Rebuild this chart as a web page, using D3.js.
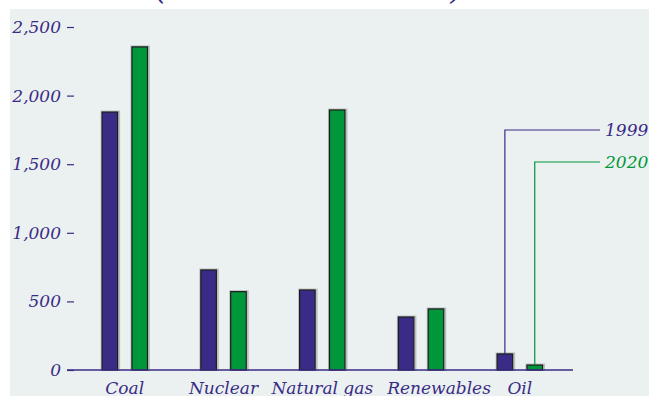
<!DOCTYPE html>
<html>
<head>
<meta charset="utf-8">
<script src="https://cdn.jsdelivr.net/npm/d3@7"></script>
<style>
  html, body { margin: 0; padding: 0; background: #ffffff; }
  svg { display: block; }
  text { font-family: "DejaVu Serif", serif; font-style: italic; }
</style>
</head>
<body>
<svg id="chart" width="649" height="396"></svg>
<script>
// Electricity generation by fuel (billion kilowatthours)
const categories = ["Coal", "Nuclear", "Natural gas", "Renewables", "Oil"];
const years = ["1999", "2020"];
const values1999 = [1880, 729, 583, 386, 117];
const values2020 = [2355, 571, 1895, 445, 36];
const yTicks = [0, 500, 1000, 1500, 2000, 2500];

const purple = "#3a2b86";
const green = "#00973a";
const colors = { "1999": purple, "2020": green };
const series = { "1999": values1999, "2020": values2020 };

const W = 649, H = 396;
const svg = d3.select("#chart");

// panel background
svg.append("rect")
  .attr("x", 10).attr("y", 9)
  .attr("width", W - 10).attr("height", H - 9)
  .attr("fill", "#ebf1f0");

// title (mostly above the visible area)
const title = svg.append("text")
  .attr("x", 309).attr("y", -1)
  .attr("text-anchor", "middle")
  .attr("fill", purple)
  .attr("font-size", 27);
title.append("tspan").attr("font-size", 32).text("(");
title.append("tspan").text("billion kilowatthours");
title.append("tspan").attr("font-size", 32).text(")");

const y = d3.scaleLinear().domain([0, 2500]).range([370, 27]);
const x = d3.scaleBand().domain(categories).range([75.4, 569.2]).padding(0);
const xs = d3.scaleBand().domain(years)
  .range([x.bandwidth() / 2 - 22.7, x.bandwidth() / 2 + 22.7])
  .paddingInner(0.48).paddingOuter(0);

// y axis
const yAxis = d3.axisLeft(y).tickValues(yTicks).tickFormat(d3.format(","))
  .tickSize(7).tickPadding(6);
const gy = svg.append("g").attr("transform", "translate(74,0)").call(yAxis);
gy.select(".domain").remove();
gy.selectAll(".tick line").attr("stroke", purple).attr("stroke-width", 1.2);
gy.selectAll(".tick text")
  .attr("fill", purple)
  .attr("font-family", "DejaVu Serif")
  .attr("font-style", "italic")
  .attr("font-size", 17);

// bars
const barData = [];
categories.forEach((c, i) => {
  years.forEach(yr => barData.push({ cat: c, year: yr, value: series[yr][i] }));
});

const bars = svg.append("g");
// soft grey halo behind each bar
bars.selectAll("rect.halo").data(barData).join("rect")
  .attr("class", "halo")
  .attr("x", d => x(d.cat) + xs(d.year) - 0.5)
  .attr("y", d => y(d.value) - 0.5)
  .attr("width", xs.bandwidth() + 2)
  .attr("height", d => y(0) - y(d.value) + 0.5)
  .attr("fill", "none")
  .attr("stroke", "#b9bfbe")
  .attr("stroke-width", 2);
bars.selectAll("rect.bar").data(barData).join("rect")
  .attr("class", "bar")
  .attr("x", d => x(d.cat) + xs(d.year))
  .attr("y", d => y(d.value))
  .attr("width", xs.bandwidth())
  .attr("height", d => y(0) - y(d.value))
  .attr("fill", d => colors[d.year])
  .attr("stroke", "#1c1c1c")
  .attr("stroke-width", 1.2);

// baseline
svg.append("line")
  .attr("x1", 67).attr("x2", 573)
  .attr("y1", y(0)).attr("y2", y(0))
  .attr("stroke", purple).attr("stroke-width", 1.6);

// category labels; the long fourth label is nudged right so it clears its neighbour
const labelNudge = { "Renewables": 18 };
svg.append("g").selectAll("text").data(categories).join("text")
  .attr("x", d => x(d) + x.bandwidth() / 2 + (labelNudge[d] || 0))
  .attr("y", 394)
  .attr("text-anchor", "middle")
  .attr("fill", purple)
  .attr("font-size", 17)
  .text(d => d);

// legend leaders from the last category's bars
const lastCat = categories[categories.length - 1];
const legendY = { "1999": 130, "2020": 162 };
const legendEnd = 600;
years.forEach(yr => {
  const v = series[yr][categories.length - 1];
  const cx = x(lastCat) + xs(yr) + xs.bandwidth() / 2;
  const pts = [[cx, y(v)], [cx, legendY[yr]], [legendEnd, legendY[yr]]];
  svg.append("path")
    .attr("d", d3.line()(pts))
    .attr("fill", "none")
    .attr("stroke", colors[yr])
    .attr("stroke-width", 1.2);
  svg.append("text")
    .attr("x", legendEnd + 5)
    .attr("y", legendY[yr] + 6)
    .attr("fill", colors[yr])
    .attr("font-size", 17)
    .text(yr);
});
</script>
</body>
</html>
